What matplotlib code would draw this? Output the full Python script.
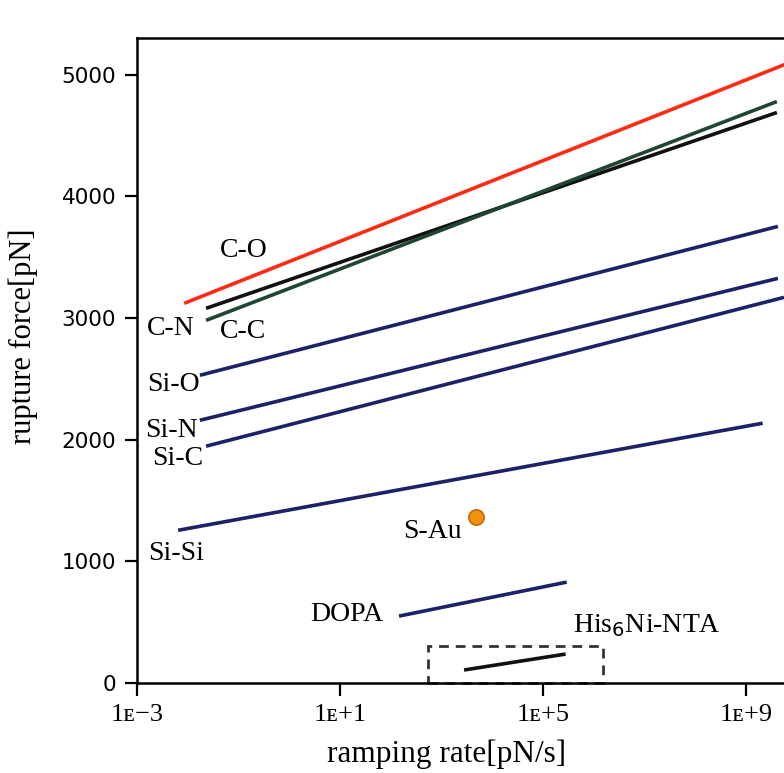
import numpy as np
import matplotlib.pyplot as plt
from matplotlib.patches import Rectangle

# Datos: log10(ramping rate) de inicio/fin y fuerza de ruptura
bonds = ['C-O', 'C-N', 'C-C', 'Si-O', 'Si-N', 'Si-C', 'Si-Si', 'DOPA', 'His$_6$Ni-NTA']
log_rate_start = [-2.07, -1.64, -1.64, -1.76, -1.76, -1.64, -2.19, 2.16, 3.44]
log_rate_end = [9.80, 9.60, 9.60, 9.62, 9.62, 9.74, 9.32, 5.46, 5.44]
force_start = [3120, 3079, 2980, 2529, 2159, 1946, 1255, 550, 107]
force_end = [5090, 4688, 4778, 3752, 3325, 3169, 2135, 829, 238]
line_colors = ['#ff2a14', '#111111', '#1f4630', '#1b2266', '#1b2266', '#1b2266',
               '#1b2266', '#1b2266', '#111111']

# S-Au (punto)
sau_log_rate = 3.67
sau_force = 1363

# caja discontinua
box_log_rate = [2.73, 6.17]
box_force_top = 305

x_tick_exp = [-3, 1, 5, 9]
y_ticks = [0, 1000, 2000, 3000, 4000, 5000]

# posiciones de etiquetas (log rate, fuerza)
label_text = ['C-O', 'C-N', 'C-C', 'Si-O', 'Si-N', 'Si-C', 'Si-Si', 'S-Au', 'DOPA', 'His$_6$Ni-NTA']
label_x = [-1.37, -2.80, -1.37, -2.80, -2.84, -2.70, -2.78, 2.24, 0.41, 5.58]
label_y = [3555, 2915, 2890, 2455, 2077, 1847, 1067, 1248, 565, 468]

serif = ['Liberation Serif', 'DejaVu Serif']

fig = plt.figure(figsize=(7.84, 7.73), dpi=100)
ax = fig.add_axes([0.1747, 0.1164, 0.8253, 0.8344])
ax.set_xscale('log')

for i in range(len(bonds)):
    ax.plot([10**log_rate_start[i], 10**log_rate_end[i]], [force_start[i], force_end[i]],
            color=line_colors[i], lw=2.6, solid_capstyle='butt', zorder=3)

ax.plot([10**sau_log_rate], [sau_force], 'o', ms=11, color='#f0920f',
        mec='#c8690a', mew=1.2, zorder=4)

ax.add_patch(Rectangle((10**box_log_rate[0], 0), 10**box_log_rate[1] - 10**box_log_rate[0],
                       box_force_top, fill=False, ec='#333333', lw=2,
                       ls=(0, (3.5, 2.5)), zorder=2, clip_on=False))

for t, lx, ly in zip(label_text, label_x, label_y):
    ax.text(10**lx, ly, t, fontsize=20, family=serif, ha='left', va='center')

ax.set_xlim(10**-3, 10**9.74)
ax.set_ylim(0, 5300)

ax.set_xticks([10.0**e for e in x_tick_exp])
ax.set_xticklabels(['1ᴇ' + ('+' if e > 0 else '−') + str(abs(e)) for e in x_tick_exp],
                   family=serif, fontsize=19)
ax.minorticks_off()
ax.set_yticks(y_ticks)
ax.set_yticklabels([str(v) for v in y_ticks], fontsize=15.5)
ax.tick_params(direction='out', length=9, width=1.6, pad=6)

for s in ['left', 'bottom', 'top']:
    ax.spines[s].set_linewidth(1.8)
ax.spines['right'].set_visible(False)

ax.set_xlabel('ramping rate[pN/s]', fontsize=22.5, family=serif)
ax.set_ylabel('rupture force[pN]', fontsize=22, family=serif)
ax.xaxis.set_label_coords(0.479, -0.087)
ax.yaxis.set_label_coords(-0.153, 0.538)

fig.savefig('out.png', dpi=100)
